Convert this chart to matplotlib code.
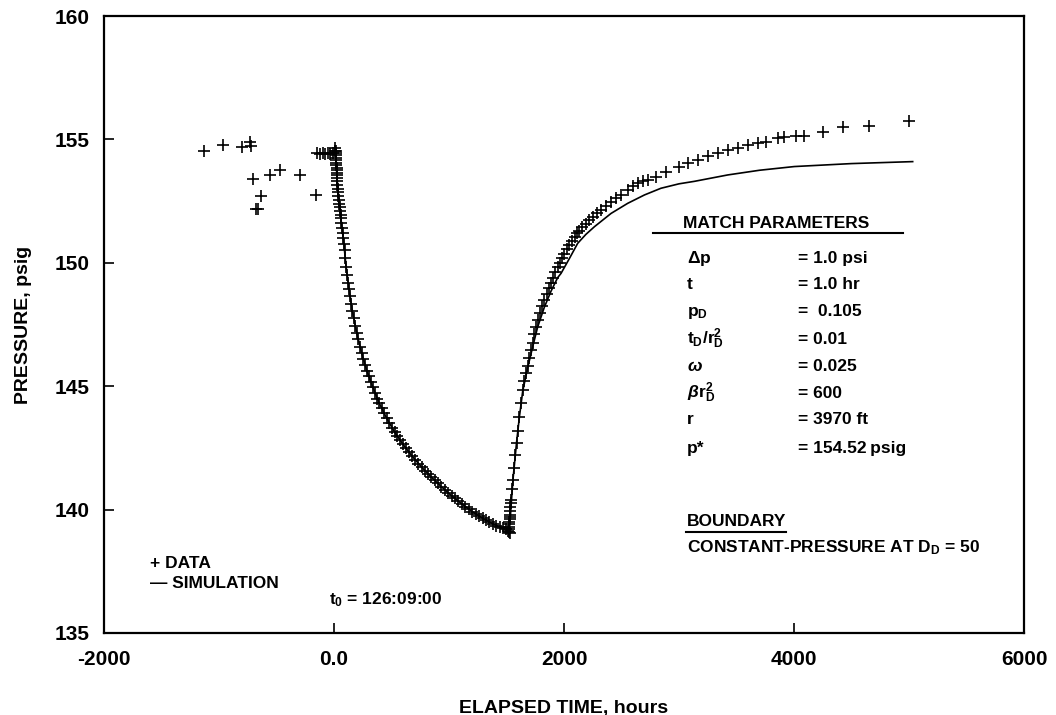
import matplotlib
matplotlib.use("Agg")
import matplotlib.pyplot as plt
from matplotlib.lines import Line2D

plt.rcParams['font.family'] = ['Liberation Sans', 'DejaVu Sans']
plt.rcParams['font.weight'] = 'bold'
plt.rcParams['mathtext.fontset'] = 'custom'
plt.rcParams['mathtext.rm'] = 'Liberation Sans:bold'
plt.rcParams['mathtext.bf'] = 'Liberation Sans:bold'
plt.rcParams['mathtext.it'] = 'Liberation Sans:italic'
plt.rcParams['mathtext.sf'] = 'Liberation Sans:bold'

# ---------------- data ----------------
pre_x = [-1133, -965, -803, -730, -722, -702, -676, -664, -635, -557, -467, -296, -157]
pre_y = [154.55, 154.78, 154.70, 154.89, 154.74, 153.39, 152.20, 152.20, 152.71, 153.56, 153.77, 153.55, 152.74]

flat_x = [-150, -125, -100, -78, -55, -32, -12, 5, 12]
flat_y = [154.44, 154.42, 154.44, 154.42, 154.43, 154.42, 154.44, 154.52, 154.66]

draw_x = [18, 19, 19, 20, 20, 21, 21, 22, 22, 23, 24, 25,
          27, 30, 33, 36, 39, 42, 45, 49, 53, 57, 61, 65, 70, 75, 80, 86, 92, 98,
          105, 113, 121, 130, 140, 150, 160, 172, 185, 198, 212, 226, 240, 255, 270,
          286, 302, 320, 338, 356, 375, 395, 415, 436, 458, 480, 503, 527, 551, 576,
          601, 627, 653, 680, 707, 734, 762, 790, 818, 846, 875, 904, 933, 962, 992,
          1022, 1052, 1082, 1112, 1142, 1172, 1202, 1232, 1262, 1292, 1322, 1352, 1382,
          1412, 1442, 1470, 1495, 1510, 1520, 1528]
draw_y = [154.55, 154.45, 154.35, 154.25, 154.15, 154.05, 153.95, 153.85, 153.75, 153.65, 153.55, 153.45,
          153.30, 153.15, 153.00, 152.85, 152.70, 152.55, 152.40, 152.25, 152.10, 151.95, 151.80, 151.60,
          151.40, 151.20, 151.00, 150.75, 150.50, 150.20,
          149.85, 149.50, 149.20, 148.95, 148.65, 148.35, 148.05, 147.75, 147.45, 147.15, 146.90, 146.60,
          146.35, 146.10, 145.85,
          145.62, 145.40, 145.15, 144.95, 144.72, 144.50, 144.30, 144.10, 143.90, 143.70, 143.50, 143.32,
          143.14, 142.97, 142.80,
          142.64, 142.48, 142.32, 142.16, 142.00, 141.86, 141.72, 141.58, 141.45, 141.32, 141.19, 141.06,
          140.93, 140.80, 140.68,
          140.56, 140.45, 140.34, 140.23, 140.12, 140.02, 139.92, 139.83, 139.74, 139.65, 139.57, 139.49,
          139.42, 139.35, 139.29, 139.24, 139.20, 139.15, 139.10, 139.05]

rec_x = [1522, 1524, 1525, 1526, 1527, 1528, 1530, 1532, 1534, 1536, 1538, 1548, 1556, 1566,
         1576, 1587, 1598, 1612, 1626, 1641, 1655, 1670, 1684, 1699, 1713, 1728, 1742, 1757,
         1771, 1790, 1810, 1829, 1848, 1868, 1887, 1906, 1926, 1945, 1964, 1984, 2003, 2025,
         2046, 2070, 2095, 2115, 2133, 2160, 2191, 2220, 2250, 2285, 2322, 2365, 2409, 2450,
         2496, 2554, 2600, 2641, 2690, 2728, 2800, 2887, 3003, 3076, 3163, 3250, 3337, 3424,
         3510, 3597, 3684, 3757, 3858, 3916, 4017, 4090, 4250, 4424, 4655, 4998]
rec_y = [139.20, 139.30, 139.40, 139.50, 139.60, 139.70, 139.80, 139.95, 140.10, 140.25, 140.40,
         140.85, 141.20, 141.70, 142.20, 142.70, 143.20, 143.75, 144.30, 144.85, 145.20, 145.55,
         145.80, 146.15, 146.45, 146.75, 147.10, 147.40, 147.69, 147.95, 148.25, 148.50, 148.75,
         148.97, 149.18, 149.40, 149.62, 149.85, 150.00, 150.20, 150.35, 150.55, 150.72, 150.90,
         151.05, 151.20, 151.30, 151.45, 151.58, 151.72, 151.87, 152.00, 152.14, 152.30, 152.48,
         152.62, 152.75, 152.95, 153.10, 153.22, 153.30, 153.36, 153.49, 153.69, 153.90, 154.03,
         154.17, 154.33, 154.44, 154.57, 154.64, 154.78, 154.84, 154.91, 155.05, 155.11, 155.14,
         155.14, 155.31, 155.51, 155.54, 155.76]

sim_x = [15, 25, 45, 65, 86, 105, 130, 160, 198, 240, 286, 338, 395, 458, 527, 601, 680, 762,
         846, 933, 1022, 1112, 1202, 1292, 1382, 1470, 1525, 1545, 1556, 1587, 1612, 1641, 1684,
         1728, 1771, 1829, 1887, 1945, 1974, 2050, 2119, 2190, 2264, 2409, 2554, 2700, 2843,
         3000, 3133, 3424, 3700, 4003, 4500, 5032]
sim_y = [154.52, 153.50, 152.40, 151.60, 150.75, 149.85, 148.95, 148.05, 147.15, 146.35, 145.62,
         144.95, 144.30, 143.70, 143.14, 142.64, 142.16, 141.72, 141.32, 140.93, 140.56, 140.23,
         139.92, 139.65, 139.42, 139.24, 139.12, 140.50, 141.20, 142.70, 143.75, 144.80, 145.75,
         146.60, 147.40, 148.20, 148.85, 149.40, 149.57, 150.20, 150.79, 151.15, 151.46, 152.00,
         152.41, 152.75, 153.02, 153.20, 153.30, 153.56, 153.75, 153.90, 154.02, 154.10]

x_ticks = [-2000, 0, 2000, 4000, 6000]
x_tick_labels = ['-2000', '0.0', '2000', '4000', '6000']
y_ticks = [135, 140, 145, 150, 155, 160]

param_labels = [r'$\Delta\mathrm{p}$', 't', r'$\mathrm{p_D}$', r'$\mathrm{t_D/r_D^2}$',
                r'$\mathit{\omega}$', r'$\mathit{\beta}\mathrm{r_D^2}$', 'r', 'p*']
param_values = ['= 1.0 psi', '= 1.0 hr', '=  0.105', '= 0.01', '= 0.025', '= 600',
                '= 3970 ft', '= 154.52\u2009psig']

# ---------------- figure ----------------
W, H = 1056, 715
fig = plt.figure(figsize=(W / 100, H / 100), dpi=100)
L, R, T, B = 104, 1024, 16, 633
ax = fig.add_axes([L / W, 1 - B / H, (R - L) / W, (B - T) / H])

def fx(px):
    return px / W

def fy(py):
    return 1 - py / H

mk = dict(marker='+', linestyle='none', color='black', markersize=8.5, markeredgewidth=1.2)
ax.plot(pre_x, pre_y, **mk)
ax.plot(flat_x, flat_y, **mk)
ax.plot(draw_x, draw_y, **mk)
ax.plot(rec_x, rec_y, **mk)
ax.plot(sim_x, sim_y, color='black', linewidth=1.2)

ax.set_xlim(-2000, 6000)
ax.set_ylim(135, 160)
ax.set_xticks(x_ticks)
ax.set_xticklabels(x_tick_labels)
ax.set_yticks(y_ticks)
for s in ax.spines.values():
    s.set_linewidth(1.6)
ax.tick_params(axis='both', direction='in', length=7, width=1.2, labelsize=15, pad=10)
ax.tick_params(axis='x', pad=12)
for lab in ax.get_xticklabels() + ax.get_yticklabels():
    lab.set_fontweight('bold')

ax.set_xlabel('ELAPSED TIME, hours', fontsize=14, fontweight='bold')
ax.set_ylabel('PRESSURE, psig', fontsize=14, fontweight='bold')
ax.xaxis.set_label_coords((564 - L) / (R - L), -(700 - B) / (B - T))
ax.yaxis.set_label_coords(-(L - 32) / (R - L), 0.5)

fs = 12.5
# match parameters block
fig.text(fx(683), fy(228), 'MATCH PARAMETERS', fontsize=fs, fontweight='bold', va='baseline', ha='left')
fig.add_artist(Line2D([fx(653), fx(903)], [fy(233), fy(233)], color='black', linewidth=1.5))
rows_y = [256.7, 283.3, 310, 338, 365, 391.7, 418.3, 446.7]
for lab, val, yc in zip(param_labels, param_values, rows_y):
    fig.text(fx(687), fy(yc + 6), lab, fontsize=fs, fontweight='bold', va='baseline', ha='left')
    fig.text(fx(798), fy(yc + 6), val, fontsize=fs, fontweight='bold', va='baseline', ha='left')

fig.text(fx(687), fy(526), 'BOUNDARY', fontsize=fs, fontweight='bold', va='baseline', ha='left')
fig.add_artist(Line2D([fx(686), fx(786)], [fy(532), fy(532)], color='black', linewidth=1.5))
fig.text(fx(687), fy(552.5), r'CONSTANT-PRESSURE AT D$_\mathrm{D}$ = 50', fontsize=fs,
         fontweight='bold', va='baseline', ha='left')

# legend
fig.text(fx(150), fy(568), '+ DATA', fontsize=fs, fontweight='bold', va='baseline', ha='left')
fig.text(fx(150), fy(588), '\u2014 SIMULATION', fontsize=fs, fontweight='bold', va='baseline', ha='left')
fig.text(fx(329), fy(604), r't$_0$ = 126:09:00', fontsize=fs, fontweight='bold', va='baseline', ha='left')

fig.savefig('out.png', dpi=100)
